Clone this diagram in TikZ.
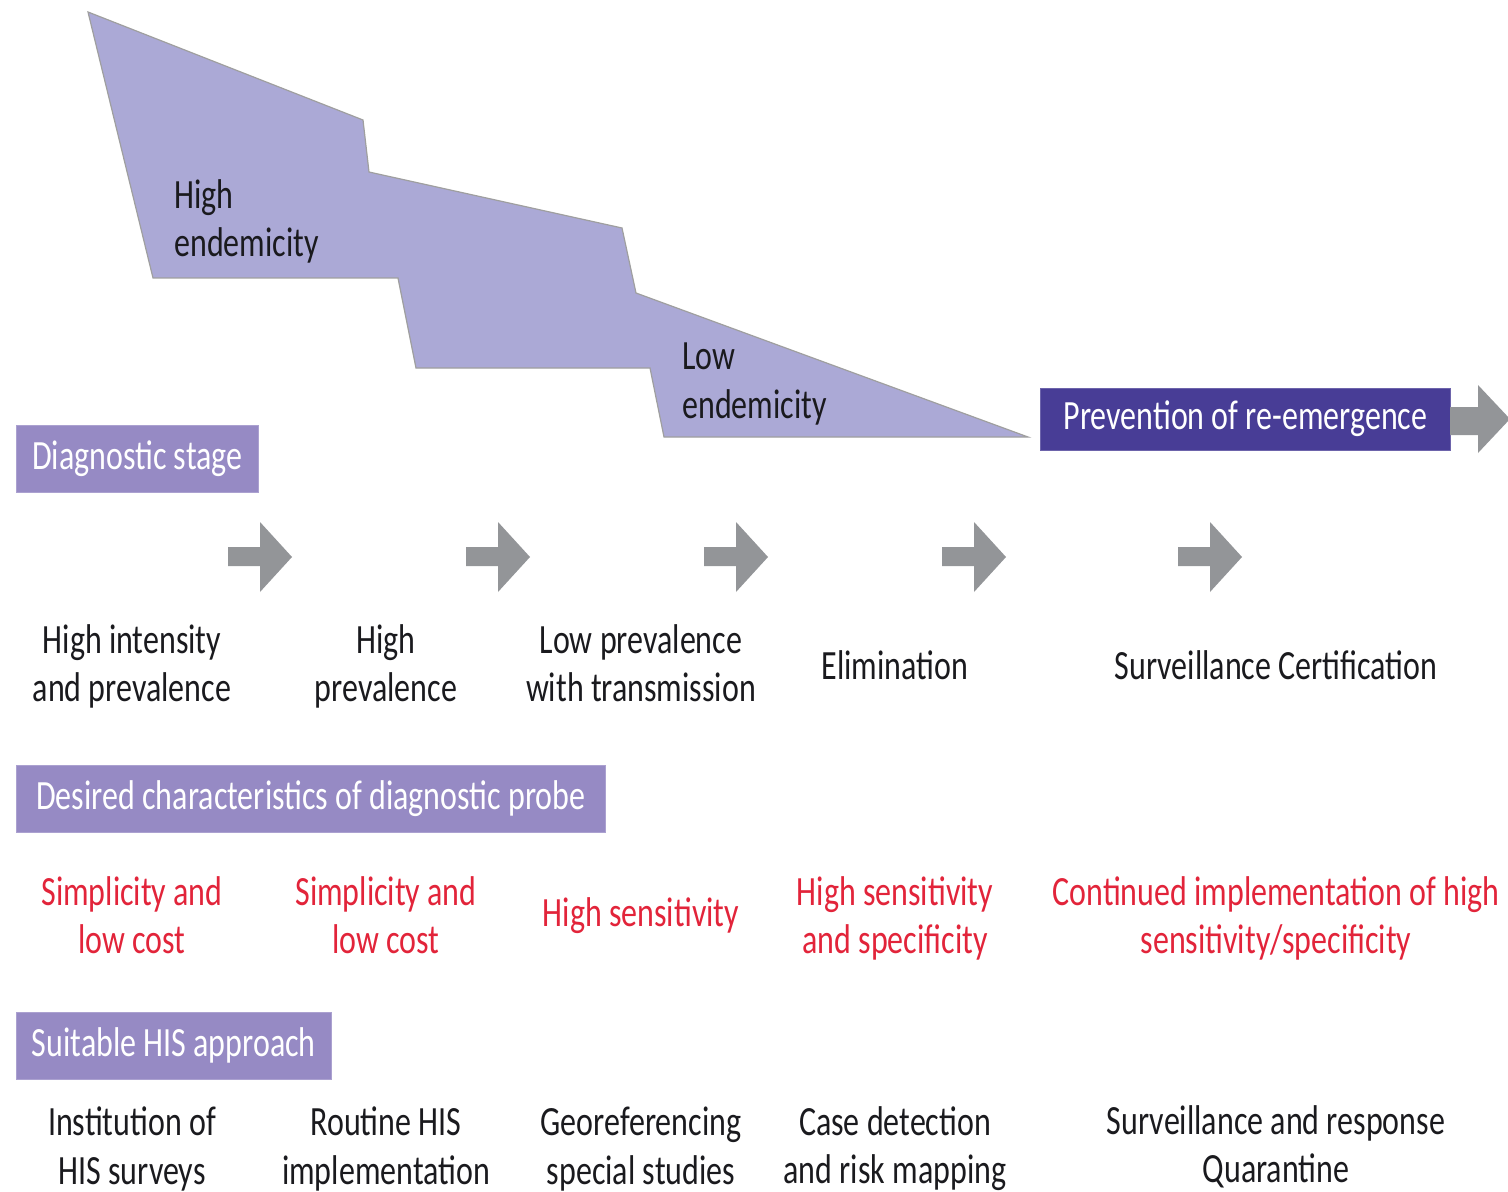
\documentclass[tikz,border=0pt]{standalone}
\usepackage{fontspec}
\setmainfont{Carlito}
\definecolor{endemiccolor}{RGB}{171,169,214}
\definecolor{headercolor}{RGB}{150,138,196}
\definecolor{preventcolor}{RGB}{72,61,150}
\definecolor{arrowcolor}{RGB}{147,149,152}
\definecolor{probecolor}{RGB}{226,36,58}
\definecolor{textcolor}{RGB}{26,26,30}

\begin{document}
\begin{tikzpicture}[x=0.5pt, y=-0.5pt,
    lbl/.style={font=\fontsize{16}{18.5}\selectfont, text=textcolor, align=center,
        inner sep=0pt, yscale=1.3, transform shape},
    probe/.style={lbl, text=probecolor},
    header/.style={font=\fontsize{16}{18.5}\selectfont, fill=headercolor, draw=headercolor!80,
        text=white, anchor=west, minimum height=25.8pt, inner xsep=0pt,
        yscale=1.3, transform shape}]
\useasboundingbox (0,0) rectangle (1508,1192);

% Endemicity staircase
\coordinate (P1) at (88,12);
\coordinate (P2) at (363,120);
\coordinate (P3) at (369,172);
\coordinate (P4) at (622,228);
\coordinate (P5) at (636,293);
\coordinate (P6) at (1028,437);
\coordinate (P7) at (664,437);
\coordinate (P8) at (650,368);
\coordinate (P9) at (416,368);
\coordinate (P10) at (398,278);
\coordinate (P11) at (153,278);
\filldraw[fill=endemiccolor, draw=gray!75, line width=0.6pt]
    (P1) -- (P2) -- (P3) -- (P4) -- (P5) -- (P6) -- (P7) -- (P8) -- (P9) -- (P10) -- (P11) -- cycle;

\node[lbl, align=left, anchor=west] (highend) at (174,221) {High\\endemicity};
\node[lbl, align=left, anchor=west] (lowend) at (682,384) {Low\\endemicity};

% Prevention box with big arrow
\node[header, fill=preventcolor, draw=preventcolor!80, minimum width=205pt, minimum height=23.8pt]
    (prevent) at (1040,419) {Prevention of re-emergence};
\fill[arrowcolor] (1450,407) -- (1478,407) -- (1478,385) -- (1510,419)
    -- (1478,453) -- (1478,435) -- (1450,435) -- cycle;

% Section headers
\node[header, minimum width=121pt] (stagehead) at (16,458.5) {Diagnostic stage};
\node[header, minimum width=294.5pt] (probehead) at (16,799) {Desired characteristics of diagnostic probe};
\node[header, minimum width=157.5pt] (hishead) at (16,1045.5) {Suitable HIS approach};

% Stage arrows
\foreach \x in {228,466,704,942,1178} {
    \fill[arrowcolor] (\x,547) -- ++(32,0) -- ++(0,-25) -- ++(32,35)
        -- ++(-32,35) -- ++(0,-26) -- ++(-32,0) -- cycle;
}

% Diagnostic stages
\node[lbl] (stage1) at (132,666) {High intensity\\and prevalence};
\node[lbl] (stage2) at (386,666) {High\\prevalence};
\node[lbl] (stage3) at (641,663) {Low prevalence\\with transmission};
\node[lbl] (stage4) at (895,665) {Elimination};
\node[lbl] (stage5) at (1276,665) {Surveillance Certification};

% Probe characteristics
\node[probe] (probe1) at (132,915) {Simplicity and\\low cost};
\node[probe] (probe2) at (386,915) {Simplicity and\\low cost};
\node[probe] (probe3) at (641,916) {High sensitivity};
\node[probe] (probe4) at (895,918) {High sensitivity\\and specificity};
\node[probe] (probe5) at (1276,918) {Continued implementation of high\\sensitivity/specificity};

% HIS approaches
\node[lbl] (his1) at (132,1149) {Institution of\\HIS surveys};
\node[lbl] (his2) at (386,1149) {Routine HIS\\implementation};
\node[lbl] (his3) at (641,1149) {Georeferencing\\special studies};
\node[lbl] (his4) at (895,1149) {Case detection\\and risk mapping};
\node[lbl] (his5) at (1276,1147) {Surveillance and response\\Quarantine};

\end{tikzpicture}
\end{document}
